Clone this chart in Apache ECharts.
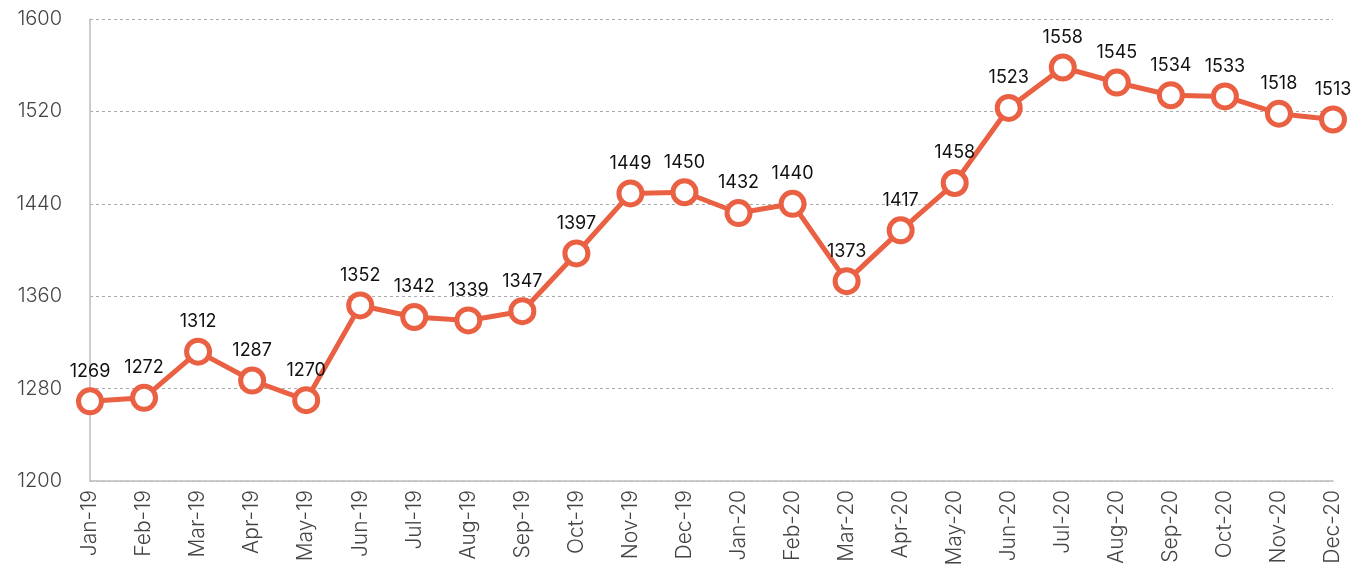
<!DOCTYPE html>
<html>
<head>
<meta charset="utf-8">
<script src="https://cdn.jsdelivr.net/npm/echarts@6/dist/echarts.min.js"></script>
<style>
  html, body { margin: 0; padding: 0; background: #fff; }
  #chart { width: 1368px; height: 573px; }
</style>
</head>
<body>
<div id="chart"></div>
<script>
const months = ['Jan-19', 'Feb-19', 'Mar-19', 'Apr-19', 'May-19', 'Jun-19', 'Jul-19', 'Aug-19',
  'Sep-19', 'Oct-19', 'Nov-19', 'Dec-19', 'Jan-20', 'Feb-20', 'Mar-20', 'Apr-20', 'May-20',
  'Jun-20', 'Jul-20', 'Aug-20', 'Sep-20', 'Oct-20', 'Nov-20', 'Dec-20']
const values = [1269, 1272, 1312, 1287, 1270, 1352, 1342, 1339, 1347, 1397, 1449, 1450,
  1432, 1440, 1373, 1417, 1458, 1523, 1558, 1545, 1534, 1533, 1518, 1513]

const font = 'Inter, "Open Sans", sans-serif'
const chart = echarts.init(document.getElementById('chart'))
chart.setOption({
  animation: false,
  backgroundColor: '#fff',
  grid: { left: 90, right: 35, top: 19, bottom: 92 },
  xAxis: {
    type: 'category',
    data: months,
    boundaryGap: false,
    axisLine: { lineStyle: { color: '#bdbdbd', width: 1.5 } },
    axisTick: { show: false },
    axisLabel: { rotate: 90, color: '#444', fontSize: 21, fontWeight: 300, fontFamily: font, margin: 9, interval: 0 }
  },
  yAxis: {
    type: 'value',
    min: 1200,
    max: 1600,
    interval: 80,
    axisLine: { show: true, lineStyle: { color: '#bdbdbd', width: 1.5 } },
    axisTick: { show: false },
    axisLabel: { color: '#444', fontSize: 20, fontWeight: 300, fontFamily: font, margin: 28, formatter: (v) => String(v) },
    splitLine: { lineStyle: { color: '#aaa', type: [3, 3], width: 1 } }
  },
  series: [{
    type: 'line',
    data: values,
    symbol: 'circle',
    symbolSize: 23,
    lineStyle: { color: '#EA6043', width: 5 },
    itemStyle: { color: '#fff', borderColor: '#EA6043', borderWidth: 5 },
    label: { show: true, position: 'top', distance: 7, color: '#111', fontSize: 18, fontFamily: font }
  }]
})
</script>
</body>
</html>
